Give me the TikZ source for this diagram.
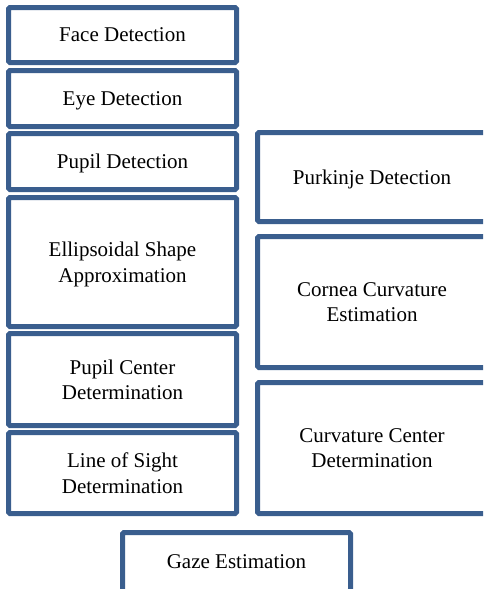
\documentclass[tikz,border=0pt]{standalone}
\usepackage{fontspec}
\setmainfont{Liberation Serif}
\definecolor{boxblue}{HTML}{3A5E8E}
\begin{document}
\begin{tikzpicture}[x=1pt,y=-1pt,
  box/.style={draw=boxblue, line width=5pt, rounded corners=1.5pt, fill=white,
    inner sep=0pt, align=center, text=black, text depth=0pt,
    font=\fontsize{21}{25.5}\selectfont}]
\useasboundingbox (0,0) rectangle (483,589);
\clip (0,0) rectangle (483,589);
\node[box, minimum width=228pt, minimum height=55pt] (face) at (122.5,35) {Face Detection};
\node[box, minimum width=228pt, minimum height=56pt] (eye) at (122.5,98.5) {Eye Detection};
\node[box, minimum width=228pt, minimum height=56pt] (pupil) at (122.5,161.5) {Pupil Detection};
\node[box, minimum width=228pt, minimum height=129pt] (ellip) at (122.5,262) {Ellipsoidal Shape\\Approximation};
\node[box, minimum width=228pt, minimum height=92pt] (pcenter) at (122.5,379.5) {Pupil Center\\Determination};
\node[box, minimum width=228pt, minimum height=81pt] (los) at (122.5,473) {Line of Sight\\Determination};
\node[box, minimum width=229pt, minimum height=89pt] (purk) at (372,177) {Purkinje Detection};
\node[box, minimum width=229pt, minimum height=131pt] (cornea) at (372,302) {Cornea Curvature\\Estimation};
\node[box, minimum width=229pt, minimum height=131pt] (curv) at (372,448) {Curvature Center\\Determination};
\node[box, minimum width=228pt, minimum height=59pt] (gaze) at (236.5,562) {Gaze Estimation};
\end{tikzpicture}
\end{document}
